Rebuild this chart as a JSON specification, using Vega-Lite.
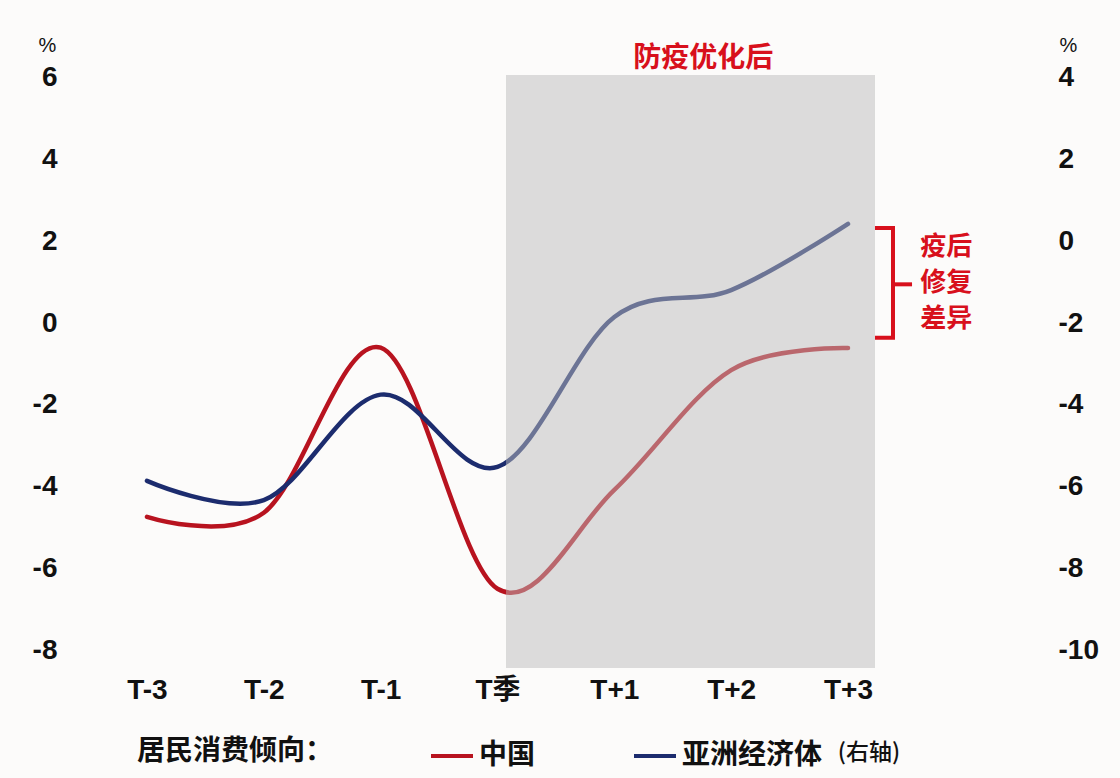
{
  "$schema": "https://vega.github.io/schema/vega-lite/v6.json",
  "width": 800,
  "height": 593,
  "autosize": {"type": "none"},
  "padding": {"left": 100, "top": 75, "right": 220, "bottom": 110},
  "background": "#fcfbfa",
  "config": {
    "view": {"stroke": null},
    "font": "Liberation Sans, Noto Sans CJK SC",
    "axis": {"grid": false, "domain": false, "ticks": false}
  },
  "datasets": {
    "china": [
      {"t": 0, "period": "T-3", "value": -4.74},
      {"t": 1, "period": "T-2", "value": -4.64},
      {"t": 2, "period": "T-1", "value": -0.6},
      {"t": 3, "period": "T季", "value": -6.5},
      {"t": 4, "period": "T+1", "value": -4.08},
      {"t": 5, "period": "T+2", "value": -1.15},
      {"t": 6, "period": "T+3", "value": -0.61}
    ],
    "asia": [
      {"t": 0, "period": "T-3", "value": -5.86},
      {"t": 1, "period": "T-2", "value": -6.33},
      {"t": 2, "period": "T-1", "value": -3.75},
      {"t": 3, "period": "T季", "value": -5.52},
      {"t": 4, "period": "T+1", "value": -1.85},
      {"t": 5, "period": "T+2", "value": -1.19},
      {"t": 6, "period": "T+3", "value": 0.43}
    ],
    "phase": [{"t": 3.073, "t2": 6.231}],
    "phaseLabel": [{"t": 4.76, "v": 6.47, "label": "防疫优化后"}],
    "bracket": [
      {"t": 6.231, "v": 2.33, "k": 0},
      {"t": 6.385, "v": 2.33, "k": 1},
      {"t": 6.385, "v": -0.36, "k": 2},
      {"t": 6.231, "v": -0.36, "k": 3}
    ],
    "bracketNub": [{"t": 6.385, "t2": 6.548, "v": 0.95}],
    "bracketLabel": [{"t": 6.84, "v": 1.865, "label": "疫后\n修复\n差异"}],
    "legendNote": [{"t": 6.18, "v": -10.52, "label": "(右轴)"}]
  },
  "layer": [
    {
      "data": {"name": "china"},
      "transform": [{"calculate": "'中国'", "as": "series"}],
      "mark": {"type": "line", "interpolate": "cardinal", "strokeWidth": 4.5, "strokeCap": "round"},
      "encoding": {
        "x": {
          "field": "t", "type": "quantitative",
          "scale": {"domain": [-0.402, 6.445], "nice": false, "zero": false},
          "axis": {
            "title": null, "values": [0, 1, 2, 3, 4, 5, 6],
            "labelExpr": "['T-3','T-2','T-1','T季','T+1','T+2','T+3'][datum.value]",
            "labelFontSize": 28, "labelFontWeight": "bold", "labelColor": "#111", "labelPadding": 8,
            "labelBaseline": "top", "labelFlush": false
          }
        },
        "y": {
          "field": "value", "type": "quantitative",
          "scale": {"domain": [-8.44, 6.073], "nice": false, "zero": false},
          "axis": {
            "orient": "left", "values": [-8, -6, -4, -2, 0, 2, 4, 6],
            "labelExpr": "toString(datum.value)",
            "title": "%", "titleAngle": 0, "titleX": -53, "titleY": -30,
            "titleAlign": "center", "titleBaseline": "middle",
            "titleFont": "Liberation Sans Narrow, Liberation Sans",
            "titleFontSize": 20, "titleFontWeight": "normal", "titleColor": "#111",
            "labelFontSize": 28, "labelFontWeight": "bold", "labelColor": "#111", "labelPadding": 43,
            "labelFlush": false
          }
        },
        "color": {
          "field": "series", "type": "nominal",
          "scale": {"domain": ["中国", "亚洲经济体"], "range": ["#b8131f", "#1c2c6e"]},
          "legend": {
            "orient": "none", "legendX": 37, "legendY": 658,
            "direction": "horizontal",
            "title": "居民消费倾向：", "titleOrient": "left", "titleLimit": 400,
            "titleFontSize": 28, "titleFontWeight": "bold", "titleColor": "#111",
            "titlePadding": 95,
            "labelFontSize": 28, "labelFontWeight": "bold", "labelColor": "#111",
            "labelOffset": 4, "labelLimit": 400,
            "symbolType": "stroke", "symbolSize": 1764, "symbolStrokeWidth": 4,
            "columnPadding": 90
          }
        }
      }
    },
    {
      "data": {"name": "asia"},
      "transform": [{"calculate": "'亚洲经济体'", "as": "series"}],
      "mark": {"type": "line", "interpolate": "cardinal", "strokeWidth": 4.5, "strokeCap": "round"},
      "encoding": {
        "x": {"field": "t", "type": "quantitative"},
        "y": {
          "field": "value", "type": "quantitative",
          "scale": {"domain": [-10.44, 4.073], "nice": false, "zero": false},
          "axis": {
            "orient": "right", "values": [-10, -8, -6, -4, -2, 0, 2, 4],
            "labelExpr": "toString(datum.value)",
            "title": "%", "titleAngle": 0, "titleX": 168, "titleY": -30,
            "titleAlign": "center", "titleBaseline": "middle",
            "titleFont": "Liberation Sans Narrow, Liberation Sans",
            "titleFontSize": 20, "titleFontWeight": "normal", "titleColor": "#111",
            "labelFontSize": 28, "labelFontWeight": "bold", "labelColor": "#111", "labelPadding": 158,
            "labelFlush": false
          }
        },
        "color": {"field": "series", "type": "nominal"}
      }
    },
    {
      "data": {"name": "phase"},
      "mark": {"type": "rect", "color": "#bcbcbc", "opacity": 0.5},
      "encoding": {
        "x": {"field": "t", "type": "quantitative"},
        "x2": {"field": "t2"}
      }
    },
    {
      "data": {"name": "phaseLabel"},
      "mark": {"type": "text", "fontSize": 28, "fontWeight": "bold", "color": "#d8101c", "font": "Noto Sans CJK SC", "baseline": "middle", "align": "center"},
      "encoding": {
        "x": {"field": "t", "type": "quantitative"},
        "y": {"field": "v", "type": "quantitative", "scale": {"domain": [-8.44, 6.073], "nice": false, "zero": false}, "axis": null},
        "text": {"field": "label"}
      }
    },
    {
      "data": {"name": "bracket"},
      "mark": {"type": "line", "color": "#d8101c", "strokeWidth": 4, "strokeJoin": "miter", "strokeCap": "butt"},
      "encoding": {
        "x": {"field": "t", "type": "quantitative"},
        "y": {"field": "v", "type": "quantitative", "scale": {"domain": [-8.44, 6.073], "nice": false, "zero": false}, "axis": null},
        "order": {"field": "k"}
      }
    },
    {
      "data": {"name": "bracketNub"},
      "mark": {"type": "rule", "color": "#d8101c", "strokeWidth": 4},
      "encoding": {
        "x": {"field": "t", "type": "quantitative"},
        "x2": {"field": "t2"},
        "y": {"field": "v", "type": "quantitative", "scale": {"domain": [-8.44, 6.073], "nice": false, "zero": false}, "axis": null}
      }
    },
    {
      "data": {"name": "bracketLabel"},
      "mark": {"type": "text", "fontSize": 26, "fontWeight": "bold", "color": "#d8101c", "font": "Noto Sans CJK SC", "baseline": "middle", "align": "center", "lineBreak": "\n", "lineHeight": 36},
      "encoding": {
        "x": {"field": "t", "type": "quantitative"},
        "y": {"field": "v", "type": "quantitative", "scale": {"domain": [-8.44, 6.073], "nice": false, "zero": false}, "axis": null},
        "text": {"field": "label"}
      }
    },
    {
      "data": {"name": "legendNote"},
      "mark": {"type": "text", "fontSize": 23, "fontWeight": 500, "color": "#111", "font": "Noto Sans CJK SC", "baseline": "middle", "align": "center"},
      "encoding": {
        "x": {"field": "t", "type": "quantitative"},
        "y": {"field": "v", "type": "quantitative", "scale": {"domain": [-8.44, 6.073], "nice": false, "zero": false}, "axis": null},
        "text": {"field": "label"}
      }
    }
  ],
  "resolve": {"scale": {"y": "independent"}, "axis": {"y": "independent"}}
}
